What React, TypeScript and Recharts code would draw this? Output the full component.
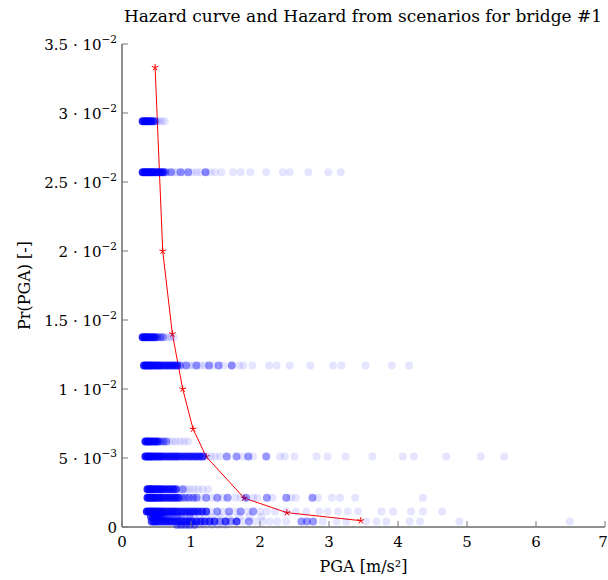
import React from "react";
import { Label, Scatter, ScatterChart, XAxis, YAxis } from "recharts";

const FONT = '"DejaVu Serif", "Liberation Serif", serif';

const xTicks = [0, 1, 2, 3, 4, 5, 6, 7];
const yTicks = [0, 0.005, 0.01, 0.015, 0.02, 0.025, 0.03, 0.035];
const yTickMantissa = ["0", "5", "1", "1.5", "2", "2.5", "3", "3.5"];
const yTickExponent = ["", "−3", "−2", "−2", "−2", "−2", "−2", "−2"];

// hazard curve (PGA [m/s2], probability)
const hazardPga = [0.48, 0.59, 0.73, 0.88, 1.03, 1.22, 1.77, 2.39, 3.46];
const hazardProb = [0.0333, 0.02, 0.014, 0.01, 0.0071, 0.0051, 0.0021, 0.00104, 0.00046];

// scenario probability levels, one per row of dots
const scenarioLevels = [0.0294, 0.0257, 0.01375, 0.0117, 0.0062, 0.0051, 0.00273, 0.00212, 0.00112, 0.00075, 0.0004, 0.00014];

// [PGA, number of scenarios at that PGA]
const row1: [number, number][] = [[0.3, 20], [0.33, 20], [0.36, 20], [0.39, 20], [0.42, 12], [0.45, 12], [0.48, 5], [0.51, 1], [0.54, 1], [0.58, 1], [0.62, 1]];
const row2: [number, number][] = [[0.3, 20], [0.33, 20], [0.36, 20], [0.39, 20], [0.42, 20], [0.45, 20], [0.48, 12], [0.51, 12], [0.54, 12], [0.57, 12], [0.6, 12], [0.63, 5], [0.67, 1], [0.71, 5], [0.76, 1], [0.8, 1], [0.85, 5], [0.9, 1], [0.96, 5], [1.02, 1], [1.08, 1], [1.13, 1], [1.21, 6], [1.28, 1], [1.35, 1], [1.44, 1], [1.61, 1], [1.72, 1], [1.86, 1], [2.09, 1], [2.33, 1], [2.43, 1], [2.7, 1], [2.99, 1], [3.17, 1]];
const row3: [number, number][] = [[0.3, 20], [0.33, 20], [0.36, 20], [0.39, 12], [0.42, 12], [0.45, 12], [0.48, 12], [0.51, 5], [0.55, 5], [0.59, 5], [0.63, 1], [0.67, 1], [0.71, 1], [0.75, 1]];
const row4: [number, number][] = [[0.32, 20], [0.35, 20], [0.38, 20], [0.41, 20], [0.44, 12], [0.47, 12], [0.5, 12], [0.53, 12], [0.56, 12], [0.6, 12], [0.64, 12], [0.68, 12], [0.72, 12], [0.76, 12], [0.8, 12], [0.84, 5], [0.88, 1], [0.93, 5], [0.98, 1], [1.03, 1], [1.08, 5], [1.14, 1], [1.2, 1], [1.26, 5], [1.32, 1], [1.4, 5], [1.47, 1], [1.59, 6], [1.7, 1], [1.76, 1], [1.89, 1], [2.13, 1], [2.24, 1], [2.43, 1], [2.73, 1], [3.06, 1], [3.18, 1], [3.53, 1], [3.91, 1], [4.16, 1]];
const row5: [number, number][] = [[0.34, 20], [0.37, 20], [0.4, 20], [0.43, 12], [0.46, 12], [0.49, 12], [0.52, 12], [0.56, 5], [0.6, 5], [0.64, 5], [0.68, 1], [0.73, 1], [0.78, 1], [0.84, 1], [0.9, 1], [0.96, 1]];
const row6: [number, number][] = [[0.34, 20], [0.37, 20], [0.4, 20], [0.43, 20], [0.46, 12], [0.49, 12], [0.52, 12], [0.55, 12], [0.58, 12], [0.62, 12], [0.66, 12], [0.7, 12], [0.74, 12], [0.78, 12], [0.82, 12], [0.87, 12], [0.92, 12], [0.97, 12], [1.02, 12], [1.07, 12], [1.12, 12], [1.17, 12], [1.23, 1], [1.29, 1], [1.35, 1], [1.42, 1], [1.52, 5], [1.66, 5], [1.75, 1], [1.83, 5], [1.9, 1], [2.09, 5], [2.29, 1], [2.36, 1], [2.5, 1], [2.82, 1], [2.98, 1], [3.24, 1], [3.63, 1], [4.07, 1], [4.23, 1], [4.7, 1], [5.2, 1], [5.54, 1]];
const row7: [number, number][] = [[0.37, 20], [0.4, 20], [0.43, 20], [0.46, 12], [0.49, 12], [0.52, 12], [0.55, 12], [0.58, 12], [0.62, 12], [0.66, 12], [0.7, 12], [0.74, 12], [0.78, 12], [0.83, 1], [0.88, 5], [0.93, 1], [0.98, 1], [1.04, 1], [1.1, 1], [1.17, 1], [1.25, 1]];
const row8: [number, number][] = [[0.37, 20], [0.4, 20], [0.43, 20], [0.46, 20], [0.49, 12], [0.52, 12], [0.55, 12], [0.58, 12], [0.62, 12], [0.66, 12], [0.7, 12], [0.74, 12], [0.78, 12], [0.82, 12], [0.87, 5], [0.92, 5], [0.97, 5], [1.03, 5], [1.08, 5], [1.15, 1], [1.22, 5], [1.3, 1], [1.38, 5], [1.46, 1], [1.53, 5], [1.64, 1], [1.72, 1], [1.8, 5], [1.9, 1], [1.96, 1], [2.1, 5], [2.18, 1], [2.38, 5], [2.45, 1], [2.52, 1], [2.76, 5], [2.84, 1], [3.04, 1], [3.16, 1], [3.38, 1], [4.36, 1]];
const row9: [number, number][] = [[0.36, 20], [0.39, 20], [0.42, 20], [0.45, 20], [0.48, 20], [0.51, 12], [0.54, 12], [0.57, 12], [0.6, 12], [0.64, 12], [0.68, 12], [0.72, 12], [0.76, 12], [0.8, 12], [0.85, 12], [0.9, 12], [0.95, 12], [1.0, 12], [1.05, 12], [1.1, 12], [1.16, 12], [1.22, 12], [1.3, 1], [1.38, 5], [1.46, 1], [1.55, 5], [1.64, 1], [1.72, 5], [1.82, 1], [1.9, 5], [2.0, 1], [2.1, 1], [2.22, 1], [2.38, 1], [2.52, 1], [2.67, 1], [2.86, 1], [2.98, 1], [3.13, 1], [3.27, 1], [3.42, 1], [3.76, 1], [3.93, 1], [4.19, 1], [4.36, 1], [4.64, 1]];
const row10: [number, number][] = [[0.42, 12], [0.45, 12], [0.48, 12], [0.51, 12], [0.54, 12], [0.58, 12], [0.62, 5], [0.66, 5], [0.7, 5], [0.75, 5], [0.8, 5], [0.86, 5], [0.92, 1], [0.98, 5], [1.05, 1], [1.12, 1], [1.2, 1], [1.3, 1], [1.42, 1], [1.55, 1], [1.7, 1], [1.85, 1], [2.02, 1]];
const row11: [number, number][] = [[0.43, 12], [0.46, 12], [0.49, 12], [0.52, 12], [0.56, 12], [0.6, 12], [0.64, 12], [0.68, 12], [0.72, 12], [0.77, 12], [0.82, 12], [0.87, 12], [0.92, 12], [0.97, 12], [1.02, 12], [1.08, 12], [1.14, 12], [1.2, 12], [1.27, 12], [1.34, 12], [1.42, 5], [1.5, 12], [1.58, 5], [1.66, 12], [1.75, 1], [1.84, 5], [1.94, 1], [2.04, 1], [2.14, 1], [2.25, 1], [2.38, 1], [2.6, 5], [2.68, 5], [2.77, 5], [2.91, 1], [3.11, 1], [3.25, 1], [3.54, 1], [3.69, 1], [3.83, 1], [4.17, 1], [4.32, 1], [4.89, 1], [6.49, 1]];
const row12: [number, number][] = [[0.8, 5], [0.86, 5], [0.92, 5], [0.98, 5], [1.05, 5], [1.12, 1], [1.2, 1], [1.3, 1], [1.4, 1], [1.5, 1]];

const scenarioRows = [row1, row2, row3, row4, row5, row6, row7, row8, row9, row10, row11, row12];

const hazardData = hazardPga.map((x, i) => ({ x, y: hazardProb[i] }));
const scenarioData = scenarioRows.flatMap((row, i) =>
  row.map(([x, n]) => ({ x, y: scenarioLevels[i], n }))
);

// each scenario dot is drawn at opacity 0.1; n stacked dots give 1 - 0.9^n
function Dot(props: any) {
  const n = props.payload?.n ?? props.n ?? 1;
  return <circle cx={props.cx} cy={props.cy} r={4} fill="#0000ff" fillOpacity={1 - Math.pow(0.9, n)} />;
}

function Star(props: any) {
  const { cx, cy } = props;
  const r = 3.5;
  const arms = [90, 162, 234, 306, 18].map((a) => {
    const t = (a * Math.PI) / 180;
    return `M${cx},${cy}L${cx + r * Math.cos(t)},${cy - r * Math.sin(t)}`;
  });
  return <path d={arms.join("")} stroke="#ff0000" strokeWidth={1} fill="none" />;
}

function YTick({ x, y, payload }: any) {
  const i = yTicks.findIndex((v) => Math.abs(v - payload.value) < 1e-9);
  const exp = yTickExponent[i];
  return (
    <g>
      <line x1={x + 6} x2={x + 12} y1={y} y2={y} stroke="#777" />
      <text x={x + 1} y={y + 5.5} textAnchor="end" fontFamily={FONT} fontSize={15} fill="#000">
        {yTickMantissa[i]}
        {exp ? " · 10" : ""}
        {exp ? (
          <tspan dy={-7} fontSize={10.5}>
            {exp}
          </tspan>
        ) : null}
      </text>
    </g>
  );
}

function XTick({ x, y, payload }: any) {
  return (
    <g>
      <line x1={x} x2={x} y1={y - 6} y2={y - 12} stroke="#777" />
      <text x={Math.min(x, 603)} y={y + 14} textAnchor="middle" fontFamily={FONT} fontSize={15} fill="#000">
        {payload.value}
      </text>
    </g>
  );
}

export default function App() {
  return (
    <div style={{ position: "absolute", top: 0, left: 0, width: 608, height: 580 }}>
      <div
        style={{
          position: "absolute",
          top: 6,
          left: 63,
          width: 600,
          textAlign: "center",
          fontFamily: FONT,
          fontSize: 17,
          lineHeight: "20px",
          whiteSpace: "nowrap",
        }}
      >
        Hazard curve and Hazard from scenarios for bridge #1
      </div>
      <ScatterChart width={608} height={580} margin={{ top: 44, right: 3, bottom: 0, left: 0 }}>
        <XAxis
          type="number"
          dataKey="x"
          domain={[0, 7]}
          ticks={xTicks}
          interval={0}
          tickSize={0}
          tickMargin={6}
          tick={<XTick />}
          axisLine={{ stroke: "#222" }}
          height={53}
        >
          <Label
            value="PGA [m/s²]"
            position="insideBottom"
            offset={8}
            style={{ fontFamily: FONT, fontSize: 16, fill: "#000" }}
          />
        </XAxis>
        <YAxis
          type="number"
          dataKey="y"
          domain={[0, 0.035]}
          ticks={yTicks}
          interval={0}
          tickSize={0}
          tickMargin={6}
          tick={<YTick />}
          axisLine={{ stroke: "#222" }}
          width={122}
        >
          <Label
            content={({ viewBox }: any) => {
              const cx = viewBox.x + 30;
              const cy = viewBox.y + viewBox.height / 2;
              return (
                <text
                  x={cx}
                  y={cy}
                  transform={`rotate(-90 ${cx} ${cy})`}
                  textAnchor="middle"
                  fontFamily={FONT}
                  fontSize={16}
                  fill="#000"
                >
                  Pr(PGA) [-]
                </text>
              );
            }}
          />
        </YAxis>
        <Scatter
          data={hazardData}
          line={{ stroke: "#ff0000", strokeWidth: 1 }}
          lineType="joint"
          shape={<Star />}
          isAnimationActive={false}
        />
        <Scatter data={scenarioData} shape={<Dot />} isAnimationActive={false} />
      </ScatterChart>
    </div>
  );
}
